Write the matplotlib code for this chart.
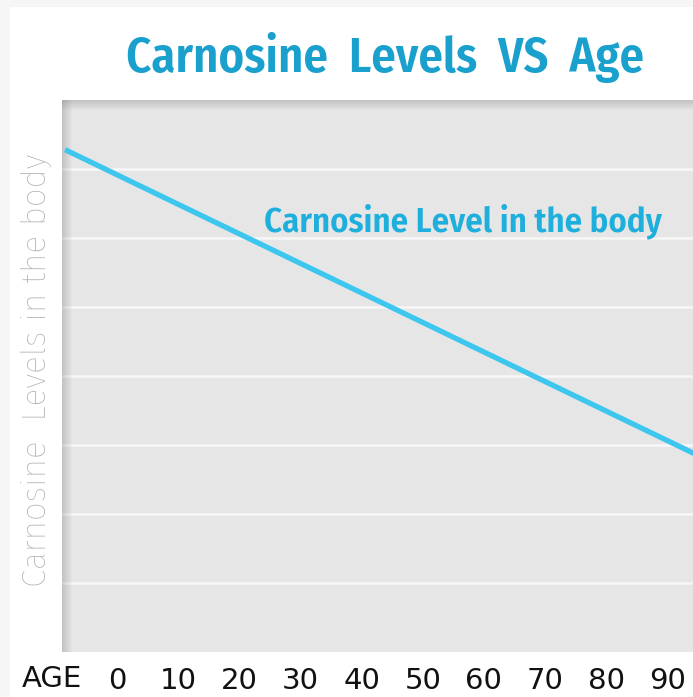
import matplotlib.pyplot as plt
from matplotlib.patches import Rectangle

# data
ages = [-8.5, 95]
levels = [7.28, 2.85]
tick_ages = [0, 10, 20, 30, 40, 50, 60, 70, 80, 90]
tick_labels = [str(a) for a in tick_ages]
grid_levels = [1, 2, 3, 4, 5, 6, 7]

W, H = 693, 697
fig = plt.figure(figsize=(W / 100, H / 100), dpi=100)
fig.patch.set_facecolor('#f6f6f6')
fig.patches.append(Rectangle((10 / W, 0), 1, 1 - 7 / H, transform=fig.transFigure,
                             facecolor='white', edgecolor='none', zorder=-5))

left, top, bottom = 62, 100, 652
ax = fig.add_axes([left / W, 1 - bottom / H, 1 - left / W, (bottom - top) / H])
ax.set_facecolor('#e6e6e6')
ax.set_xlim(-9.0, 94.2)
ax.set_ylim(0, 8)

for g in grid_levels:
    ax.axhline(g, color='#f7f7f7', lw=1.8, zorder=1)

# inner shadow on the left and top edges
n = 10
aw, ah = W - left, bottom - top
for i in range(n):
    a = 0.28 * (1 - i / n)
    ax.add_patch(Rectangle((i / aw, 0), 1 / aw, 1, transform=ax.transAxes,
                           facecolor='#6a6a6a', alpha=a, edgecolor='none', zorder=2))
    ax.add_patch(Rectangle((0, 1 - (i + 1) / ah), 1, 1 / ah, transform=ax.transAxes,
                           facecolor='#6a6a6a', alpha=a, edgecolor='none', zorder=2))

ax.plot(ages, levels, color='#3dc6ee', lw=3.8, solid_capstyle='butt', zorder=3)

for s in ax.spines.values():
    s.set_visible(False)
ax.set_yticks([])
ax.set_xticks(tick_ages)
ax.set_xticklabels(tick_labels, fontsize=21, family='DejaVu Sans', color='#111111')
ax.tick_params(axis='x', length=0, pad=11)

fig.text(52 / W, 1 - 679 / H, 'AGE', fontsize=21, family='DejaVu Sans',
         color='#111111', ha='center', va='center')
fig.text(385 / W, 1 - 58 / H, 'Carnosine  Levels  VS  Age', color='#1aa0cd',
         fontsize=35, family='Fira Sans Condensed', weight='semibold',
         ha='center', va='center')
fig.text(463 / W, 1 - 221 / H, 'Carnosine Level in the body', color='#1fafdc',
         fontsize=25, family='Fira Sans Condensed', weight='semibold',
         ha='center', va='center')
fig.text(36 / W, 1 - 370 / H, 'Carnosine  Levels in the body', color='#ababab',
         fontsize=24, family='Fira Sans', weight='light', rotation=90,
         ha='center', va='center')

fig.savefig('out.png', dpi=100)
